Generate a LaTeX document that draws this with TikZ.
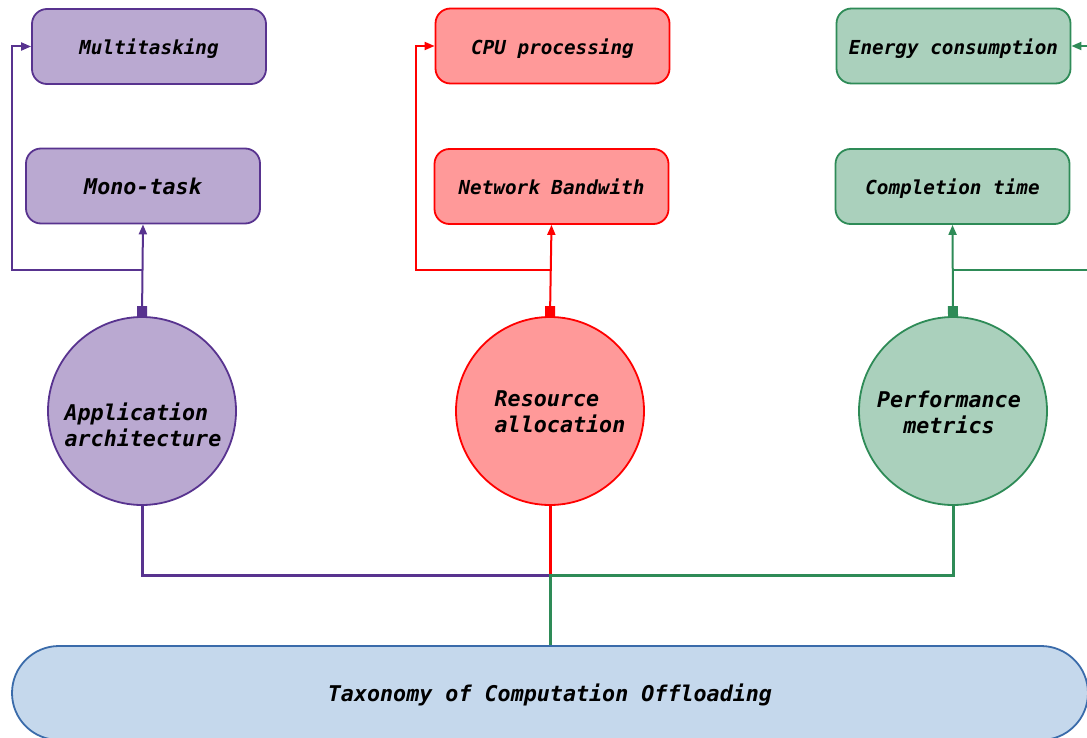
\documentclass[tikz,border=0pt]{standalone}
\usepackage{fontspec}
\setmonofont{DejaVu Sans Mono}
\usetikzlibrary{arrows.meta}

\definecolor{purpleFill}{HTML}{BAA9D1}
\definecolor{purpleLine}{HTML}{58338F}
\definecolor{redFill}{HTML}{FF9999}
\definecolor{redLine}{HTML}{FF0000}
\definecolor{greenFill}{HTML}{AAD0BC}
\definecolor{greenLine}{HTML}{2E8B57}
\definecolor{blueFill}{HTML}{C5D8EC}
\definecolor{blueLine}{HTML}{3A6BAA}

\tikzset{
  small label/.style={font=\ttfamily\bfseries\itshape\fontsize{19.3}{23}\selectfont,
    text height=22pt, text depth=5pt},
  large label/.style={font=\ttfamily\bfseries\itshape\fontsize{21.7}{26}\selectfont},
  leaf/.style={rounded corners=15pt, draw, line width=1.8pt, minimum width=234pt,
    minimum height=75pt, inner sep=0pt, text=black},
  hub/.style={circle, draw, line width=1.8pt, minimum size=188pt, inner sep=0pt},
  hubtext/.style={large label, inner sep=0pt, text=black},
  link/.style={line width=2pt, -{Triangle[length=10pt,width=8pt]}},
  stem/.style={line width=2pt, {Square[length=10pt,width=10pt]}-{Triangle[length=10pt,width=8pt]}},
  trunk/.style={line width=3pt},
  purplebox/.style={fill=purpleFill, draw=purpleLine},
  redbox/.style={fill=redFill, draw=redLine},
  greenbox/.style={fill=greenFill, draw=greenLine}
}

\begin{document}
\begin{tikzpicture}[x=1pt, y=-1pt]
\useasboundingbox (0,0) rectangle (1087,738);

% leaf categories
\node[leaf, purplebox, small label] (multi)  at (149,46.5)  {Multitasking};
\node[leaf, purplebox, large label] (mono)   at (143,186)   {Mono-task};
\node[leaf, redbox, small label]    (cpu)    at (552.5,46)  {CPU processing};
\node[leaf, redbox, small label]    (net)    at (551.5,186.5) {Network Bandwith};
\node[leaf, greenbox, small label]  (energy) at (953.5,46)  {Energy consumption};
\node[leaf, greenbox, small label]  (compl)  at (952.5,186.5) {Completion time};

% main branches
\node[hub, purplebox] (app)  at (142,411) {};
\node[hub, redbox]    (res)  at (550,411) {};
\node[hub, greenbox]  (perf) at (953,411) {};
\node[hubtext, align=left]   (apptext)  at (143,425) {Application\\architecture};
\node[hubtext, align=left]   (restext)  at (560,412) {Resource\\allocation};
\node[hubtext, align=center] (perftext) at (949,412) {Performance\\metrics};

% root
\node[draw=blueLine, fill=blueFill, line width=1.8pt, rounded corners=47pt,
      minimum width=1076pt, minimum height=94pt, large label, text=black,
      text height=22pt, text depth=6pt] (tax)
      at (550,693) {Taxonomy of Computation Offloading};

% branch points above the hubs
\coordinate (appfork)  at (142,270);
\coordinate (resfork)  at (550,270);
\coordinate (perffork) at (953,270);

% hub to leaf connectors
\draw[stem, purpleLine] (app.north) -- (mono.south);
\draw[link, purpleLine] (appfork) -- ++(-130,0) |- (multi.west);
\draw[stem, redLine] (res.north) -- (net.south);
\draw[link, redLine] (resfork) -- ++(-134,0) |- (cpu.west);
\draw[stem, greenLine] (perf.north) -- (compl.south);
\draw[link, greenLine] (perffork) -- ++(140,0) |- (energy.east);

% hubs to root
\draw[trunk, redLine] (res.south) -- (tax.north);
\draw[trunk, purpleLine] (app.south) -- ++(0,70) -| (tax.north);
\draw[trunk, greenLine] (perf.south) -- ++(0,70) -| (tax.north);
\end{tikzpicture}
\end{document}
